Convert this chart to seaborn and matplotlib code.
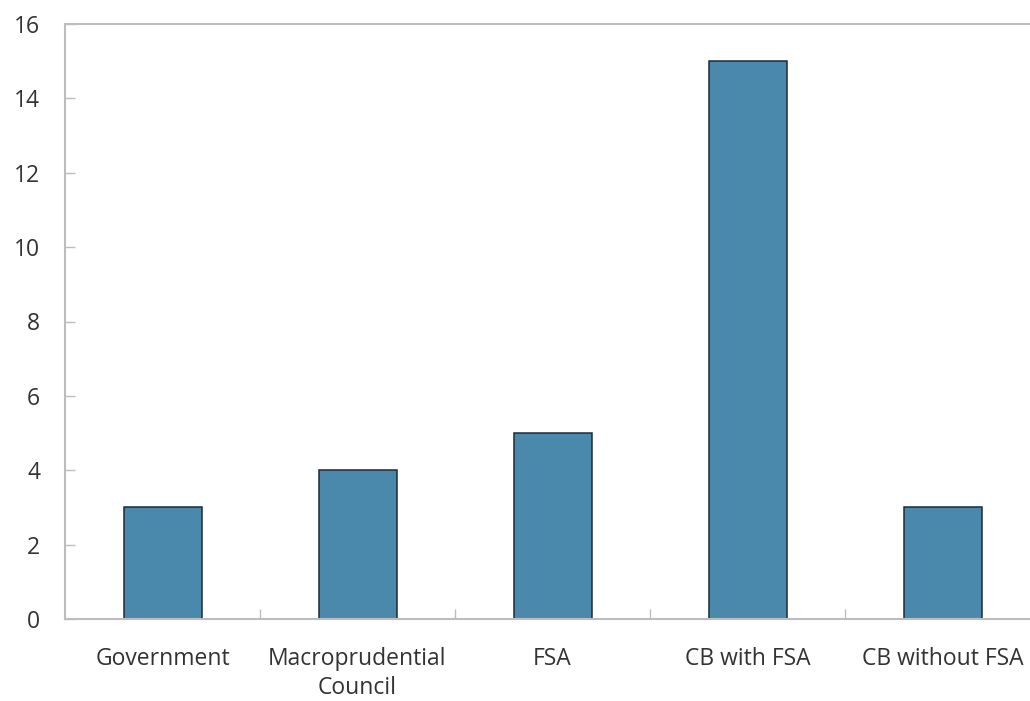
import matplotlib
matplotlib.use("Agg")
import matplotlib.pyplot as plt
import seaborn as sns
import pandas as pd

categories = ["Government", "Macroprudential\nCouncil", "FSA", "CB with FSA", "CB without FSA"]
counts = [3, 4, 5, 15, 3]
y_ticks = [0, 2, 4, 6, 8, 10, 12, 14, 16]

sns.set_theme(style="white")
plt.rcParams["font.family"] = ["Open Sans", "DejaVu Sans"]

df = pd.DataFrame({"category": categories, "count": counts})

fig = plt.figure(figsize=(10.30, 7.01), dpi=100)
ax = fig.add_axes([65 / 1030, 1 - 619 / 701, (1040 - 65) / 1030, (619 - 24) / 701])

sns.barplot(data=df, x="category", y="count", ax=ax, width=0.4,
            color="#4a89ac", saturation=1, edgecolor="#1c2b36", linewidth=1.1)

ax.set_xlim(-0.5, len(categories) - 0.5)
ax.set_ylim(0, 16)
ax.set_yticks(y_ticks)
ax.set_xlabel("")
ax.set_ylabel("")

spine_color = "#bdbdbd"
for side in ["left", "bottom", "top"]:
    ax.spines[side].set_visible(True)
    ax.spines[side].set_color(spine_color)
    ax.spines[side].set_linewidth(1.5)
ax.spines["right"].set_visible(False)

ax.tick_params(axis="y", direction="in", length=7, width=1, color=spine_color,
               labelsize=16.5, labelcolor="#333333", pad=18, left=True)
ax.tick_params(axis="x", which="major", length=0, labelsize=16.5,
               labelcolor="#333333", pad=20)
ax.set_xticks([i + 0.5 for i in range(len(categories) - 1)], minor=True)
ax.tick_params(axis="x", which="minor", direction="in", length=7, width=1,
               color=spine_color, bottom=True)
for lbl in ax.get_xticklabels():
    lbl.set_verticalalignment("top")
    lbl.set_linespacing(1.3)

fig.savefig("out.png", dpi=100)
